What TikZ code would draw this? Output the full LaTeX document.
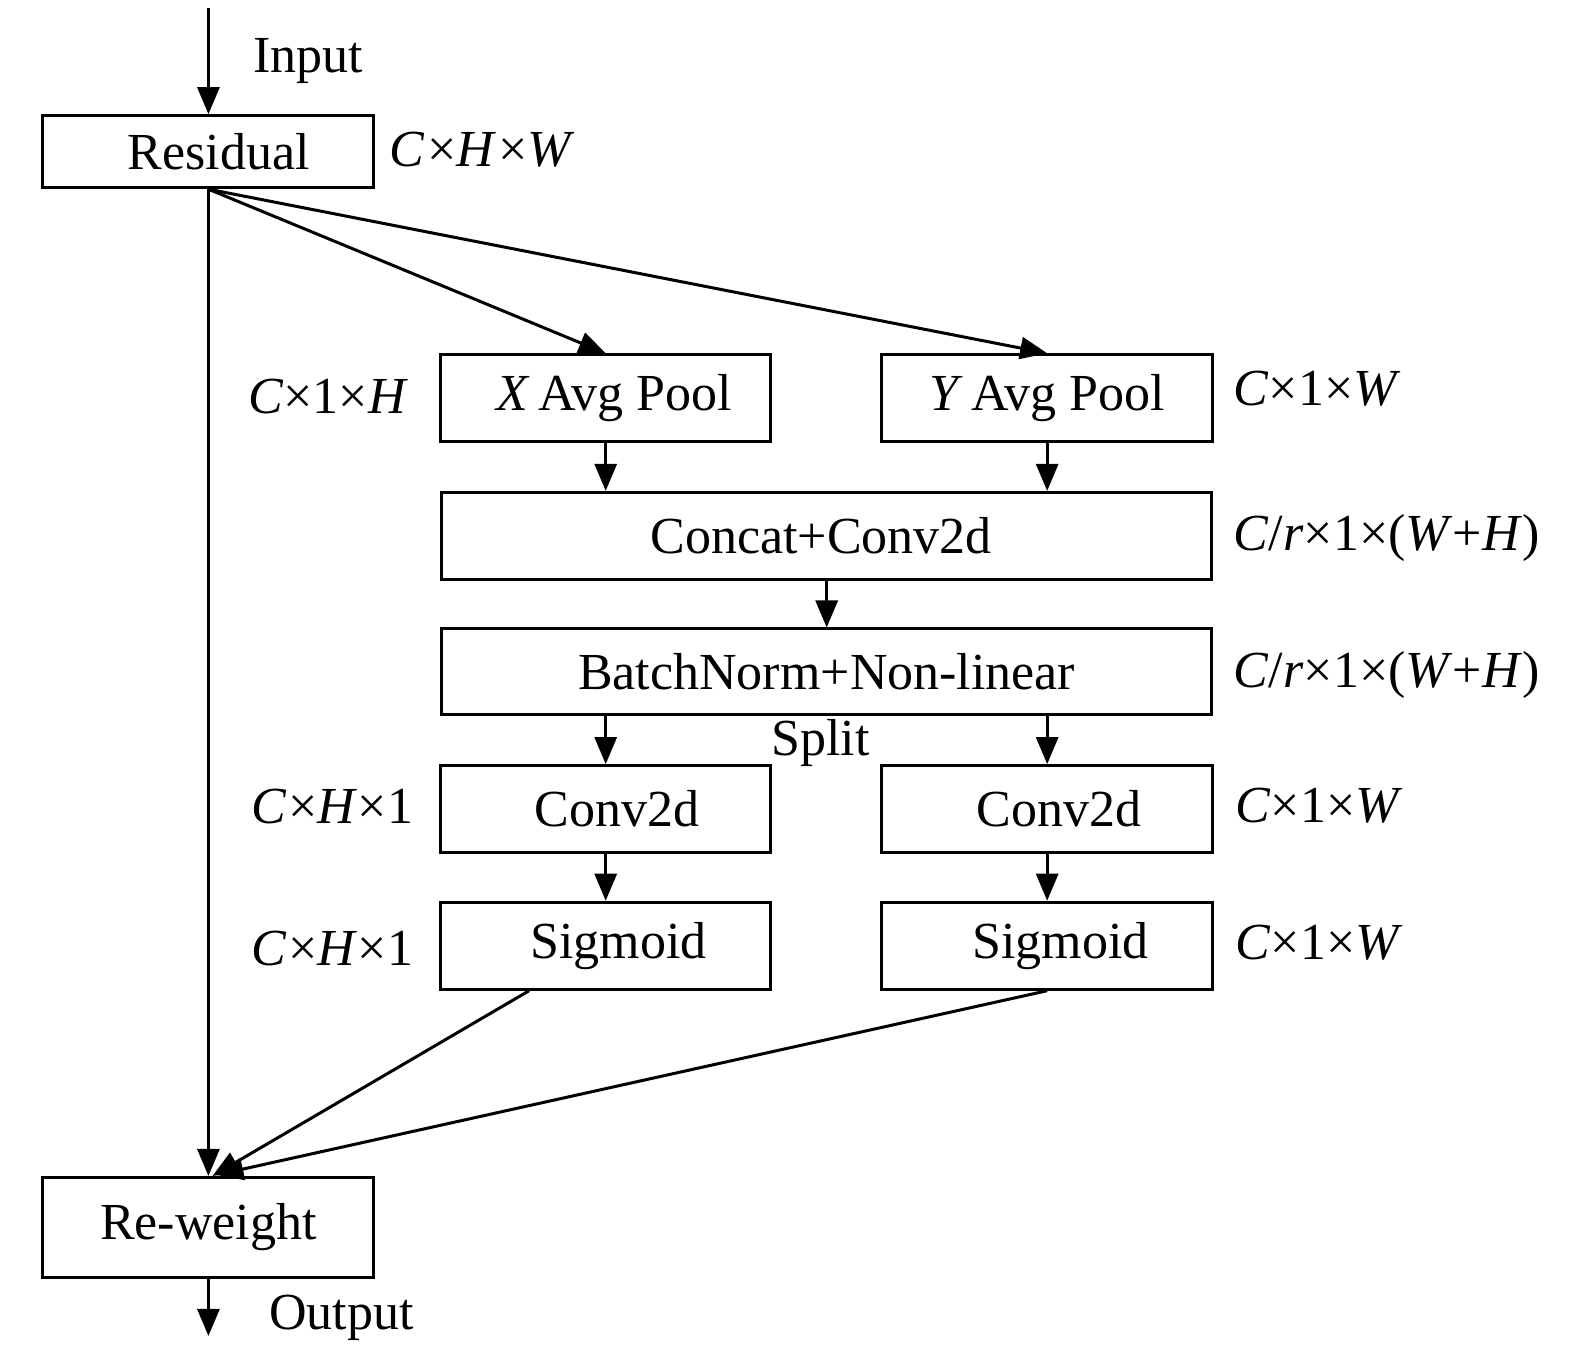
\documentclass[tikz,border=0pt]{standalone}
\usepackage{fontspec}
\setmainfont{Liberation Serif}
\usetikzlibrary{arrows.meta,calc}
\begin{document}
\begin{tikzpicture}[x=1.0045pt,y=-1.0045pt,
  box/.style={draw,line width=3pt,inner sep=0pt,font=\fontsize{52}{60}\selectfont},
  lbl/.style={inner sep=0pt,anchor=base west,font=\fontsize{52}{60}\selectfont},
  arr/.style={line width=3pt,-{Triangle[length=27pt,width=22pt]}}]
\useasboundingbox (0,0) rectangle (1568,1348);
% boxes
\node[box,minimum width=331pt,minimum height=72pt] (res) at (207.5,151) {\hspace*{21pt}Residual};
\node[box,minimum width=330pt,minimum height=87pt] (xp) at (603,396.5) {\hspace*{17pt}\textit{X}\,Avg Pool};
\node[box,minimum width=331pt,minimum height=87pt] (yp) at (1042.5,396.5) {\textit{Y}\,Avg Pool};
\node[box,minimum width=770pt,minimum height=87pt] (cc) at (823,533.5) {\hspace*{-11pt}Concat+Conv2d};
\node[box,minimum width=770pt,minimum height=86pt] (bn) at (823,669) {BatchNorm+Non-linear};
\node[box,minimum width=330pt,minimum height=87pt] (cl) at (603,805.5) {\hspace*{22pt}Conv2d};
\node[box,minimum width=331pt,minimum height=87pt] (cr) at (1042.5,805.5) {\hspace*{23pt}Conv2d};
\node[box,minimum width=330pt,minimum height=87pt] (sl) at (603,941.5) {\hspace*{26pt}Sigmoid};
\node[box,minimum width=331pt,minimum height=87pt] (sr) at (1042.5,941.5) {\hspace*{27pt}Sigmoid};
\node[box,minimum width=331pt,minimum height=100pt] (rw) at (207.5,1222) {Re-weight};
% labels
\node[lbl] (tin) at (252,72) {Input};
\node[lbl] (tout) at (268,1324) {Output};
\node[lbl] (l1) at (388,166) {\textit{C}\hspace{2pt}×\textit{H}\hspace{2pt}×\textit{W}};
\node[lbl] (l2) at (247,412) {\textit{C}×1×\textit{H}};
\node[lbl] (l3) at (1228,404) {\textit{C}×1×\textit{W}};
\node[lbl] (l4) at (1228,548) {\textit{C}/\textit{r}×1×(\textit{W}+\textit{H})};
\node[lbl] (l5) at (1228,684) {\textit{C}/\textit{r}×1×(\textit{W}+\textit{H})};
\node[lbl] (l6) at (250,820) {\textit{C}\hspace{2pt}×\textit{H}×1};
\node[lbl] (l7) at (1230,819) {\textit{C}×1×\textit{W}};
\node[lbl] (l8) at (250,961) {\textit{C}\hspace{2pt}×\textit{H}×1};
\node[lbl] (l9) at (1230,955) {\textit{C}×1×\textit{W}};
\node[inner sep=0pt,anchor=base,font=\fontsize{52}{60}\selectfont] (split) at (817,752) {Split};
% coordinates
\coordinate (in) at (207.5,8);
\coordinate (out) at (207.5,1330);
\coordinate (slo) at ($(sl.south west)!0.27!(sl.south east)$);
\coordinate (rwa) at ($(rw.north)+(4,0)$);
\coordinate (rwb) at ($(rw.north)+(8,-1)$);
% connectors
\draw[arr] (in) -- (res.north);
\draw[arr] (res.south) -- (rw.north);
\draw[arr] (res.south) -- (xp.north);
\draw[arr] (res.south) -- (yp.north);
\draw[arr] (xp.south) -- (xp.south |- cc.north);
\draw[arr] (yp.south) -- (yp.south |- cc.north);
\draw[arr] (cc.south) -- (bn.north);
\draw[arr] (cl.north |- bn.south) -- (cl.north);
\draw[arr] (cr.north |- bn.south) -- (cr.north);
\draw[arr] (cl.south) -- (sl.north);
\draw[arr] (cr.south) -- (sr.north);
\draw[arr] (slo) -- (rwa);
\draw[arr] (sr.south) -- (rwb);
\draw[arr] (rw.south) -- (out);
\end{tikzpicture}
\end{document}
